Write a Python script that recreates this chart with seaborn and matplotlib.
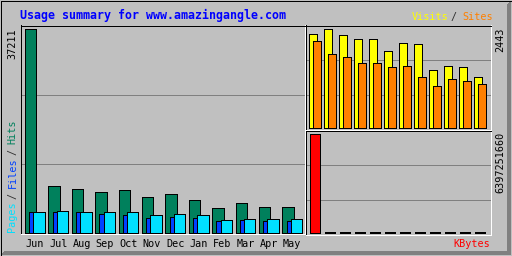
import matplotlib
matplotlib.use("Agg")
import matplotlib.pyplot as plt
from matplotlib.patches import Polygon, Rectangle
import numpy as np
import pandas as pd
import seaborn as sns

# ---------------- data ----------------
months = ["Jun", "Jul", "Aug", "Sep", "Oct", "Nov", "Dec", "Jan", "Feb", "Mar", "Apr", "May"]
hits = [37211, 8430, 8010, 7330, 7700, 6415, 6965, 5865, 4400, 5315, 4580, 4580]
files = [3670, 3670, 3670, 3300, 3115, 2566, 2750, 2566, 2016, 2200, 2016, 2016]
pages = [3670, 3850, 3670, 3670, 3670, 3115, 3300, 3115, 2200, 2380, 2380, 2380]
visits = [2325, 2443, 2300, 2200, 2200, 1900, 2100, 2075, 1425, 1525, 1500, 1250]
sites = [2150, 1825, 1750, 1600, 1600, 1500, 1525, 1250, 1025, 1200, 1150, 1075]
kbytes = [6397251660, 41000000, 40000000, 39000000, 41000000, 40000000,
          40000000, 39000000, 40000000, 41000000, 40000000, 39000000]

title = "Usage summary for www.amazingangle.com"
max_hits_label = "37211"
max_visits_label = "2443"
max_kbytes_label = "6397251660"

# ---------------- style ----------------
sns.set_style("white")
plt.rcParams["font.family"] = ["DejaVu Sans Mono", "DejaVu Sans"]

BG = "#C0C0C0"
DK = "#808080"
C_HITS, C_FILES, C_PAGES = "#00805C", "#0040FF", "#00E0FF"
C_VISITS, C_SITES, C_KB = "#FFFF00", "#FF8000", "#FF0000"
LW = 0.72  # one pixel at 100 dpi

W, H = 512, 256
fig = plt.figure(figsize=(W / 100, H / 100), dpi=100)
fig.patch.set_facecolor(BG)

# background axes in pixel coordinates (y down)
bg = fig.add_axes([0, 0, 1, 1], zorder=0)
bg.set_xlim(0, W)
bg.set_ylim(H, 0)
bg.axis("off")
bg.add_patch(Polygon([(1, 255), (511, 255), (507, 251), (5, 251)], closed=True,
                     facecolor=DK, edgecolor="none", antialiased=False))
bg.add_patch(Polygon([(511, 1), (511, 255), (507, 251), (507, 5)], closed=True,
                     facecolor=DK, edgecolor="none", antialiased=False))
bg.add_patch(Polygon([(1, 1), (511, 1), (510, 2), (2, 2)], closed=True,
                     facecolor="white", edgecolor="none", antialiased=False))
bg.add_patch(Polygon([(1, 1), (2, 2), (2, 254), (1, 255)], closed=True,
                     facecolor="white", edgecolor="none", antialiased=False))
bg.add_patch(Rectangle((0.5, 0.5), 511, 255, facecolor="none", edgecolor="black",
                       linewidth=LW, antialiased=False))


def px_axes(x0, y0, x1, y1):
    return fig.add_axes([x0 / W, 1 - y1 / H, (x1 - x0) / W, (y1 - y0) / H], zorder=2)


def style_panel(ax):
    ax.set_facecolor(BG)
    for s in ("top", "left"):
        ax.spines[s].set_color("black")
    for s in ("bottom", "right"):
        ax.spines[s].set_color("white")
    for s in ax.spines.values():
        s.set_linewidth(LW)
        s.set_antialiased(False)
    lo, hi = ax.get_ylim()
    ax.set_yticks([lo + (hi - lo) / 3, lo + 2 * (hi - lo) / 3])
    ax.yaxis.grid(True, color=DK, linewidth=LW, antialiased=False)
    ax.xaxis.grid(False)
    ax.set_axisbelow(True)
    ax.tick_params(axis="y", length=0, labelleft=False)
    ax.set_xlabel("")
    ax.set_ylabel("")


def bars(ax, centers, values, width, color):
    sns.barplot(x=centers, y=values, native_scale=True, orient="x", width=width,
                color=color, saturation=1, edgecolor="black", linewidth=LW,
                errorbar=None, ax=ax, antialiased=False)


idx = np.arange(len(months))

# ---------------- main panel: hits / files / pages ----------------
axm = px_axes(20.5, 25.5, 304.5, 233.5)
bars(axm, idx + 0.245, hits, 0.49, C_HITS)
bars(axm, idx + 0.425, files, 0.49, C_FILES)
bars(axm, idx + 0.60, pages, 0.49, C_PAGES)
k = max(hits) / (232.5 - 29.0)
axm.set_xlim(-(25 - 20.5) / 23.4, (304.5 - 25) / 23.4)
axm.set_ylim(-(233.5 - 232.5) * k, (232.5 - 25.5) * k)
style_panel(axm)

FS = 7.3
CW = 0.602 * FS * 100 / 72  # monospace advance in px

axm.set_xticks(idx + 0.42)
axm.set_xticklabels(months, fontsize=FS, color="black")
axm.tick_params(axis="x", length=0, pad=4)

# ---------------- top right: visits / sites ----------------
axv = px_axes(305.5, 25.5, 490.5, 129.5)
bars(axv, idx + 0.25, visits, 0.5, C_VISITS)
bars(axv, idx + 0.52, sites, 0.51, C_SITES)
k = max(visits) / (127.5 - 29.3)
axv.set_xlim((305.5 - 309.3) / 15, (490.5 - 309.3) / 15)
axv.set_ylim(-(129.5 - 127.5) * k, (127.5 - 25.5) * k)
style_panel(axv)
axv.tick_params(axis="x", length=0, labelbottom=False)

# ---------------- bottom right: kbytes ----------------
axk = px_axes(305.5, 130.5, 490.5, 234.5)
bars(axk, idx + 0.333, kbytes, 0.667, C_KB)
k = max(kbytes) / (232.5 - 134.3)
axk.set_xlim((305.5 - 310) / 15, (490.5 - 310) / 15)
axk.set_ylim(-(234.5 - 232.5) * k, (232.5 - 130.5) * k)
style_panel(axk)
axk.tick_params(axis="x", length=0, labelbottom=False)

# ---------------- texts ----------------
SLASH = "#303030"

bg.text(20, 19.5, title, color="#0000FF", fontsize=8.4, fontweight="bold",
        ha="left", va="baseline")

bg.text(12.5, 28, max_hits_label, rotation=90, ha="center", va="top",
        fontsize=FS, color="black")
bg.text(500.5, 27, max_visits_label, rotation=90, ha="center", va="top",
        fontsize=FS, color="black")
bg.text(500.5, 132, max_kbytes_label, rotation=90, ha="center", va="top",
        fontsize=FS, color="black")

# vertical legend: Pages / Files / Hits
y0 = 232
VCW = 5.5
for s, i, col in [("Pages", 0, C_PAGES), ("/", 6, SLASH), ("Files", 8, C_FILES),
                  ("/", 14, SLASH), ("Hits", 16, C_HITS)]:
    bg.text(12.5, y0 - i * VCW, s, rotation=90, ha="center", va="bottom",
            fontsize=FS, color=col)

# Visits / Sites
HCW = 5.6
x0 = 490 - 14 * HCW
bg.text(x0, 20, "Visits", ha="left", va="baseline", fontsize=FS, color=C_VISITS)
bg.text(x0 + 7 * HCW, 20, "/", ha="left", va="baseline", fontsize=FS, color=SLASH)
bg.text(x0 + 9 * HCW, 20, "Sites", ha="left", va="baseline", fontsize=FS, color=C_SITES)

bg.text(490, 247, "KBytes", ha="right", va="baseline", fontsize=FS, color=C_KB)

fig.savefig("out.png", dpi=100, facecolor=BG)
